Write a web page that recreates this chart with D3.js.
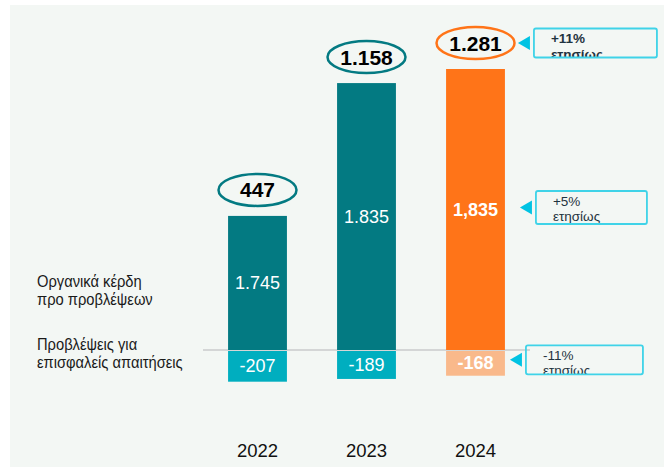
<!DOCTYPE html>
<html>
<head>
<meta charset="utf-8">
<script src="https://cdn.jsdelivr.net/npm/d3@7"></script>
<style>
  body { margin: 0; background: #fff; }
  svg text { font-family: "Liberation Sans", Arial, sans-serif; }
</style>
</head>
<body>
<svg id="canvas" width="664" height="470"></svg>
<script>
// data
let years = ['2022', '2023', '2024']
let totals = [447, 1158, 1281]
let totalLabels = ['447', '1.158', '1.281']
let organic = [1745, 1835, 1835]
let organicLabels = ['1.745', '1.835', '1,835']
let provisions = [-207, -189, -168]
let provisionLabels = ['-207', '-189', '-168']
let growthLabels = ['+11%', '+5%', '-11%']
let growthWord = 'ετησίως'
let rowNames = ['Οργανικά κέρδη|προ προβλέψεων', 'Προβλέψεις για|επισφαλείς απαιτήσεις']

let svg = d3.select('#canvas')

// panel background
svg.append('rect')
   .attr('x', 10).attr('y', 5)
   .attr('width', 654).attr('height', 462)
   .attr('fill', '#f3f7f4')

let x = d3.scaleBand()
          .domain(years)
          .range([203, 530])
          .paddingInner(0.46)
          .paddingOuter(0.23)

// bar tops follow the yearly totals (log scale, as drawn in the source)
let yTop = d3.scaleLog()
             .domain([171, 1281])
             .range([350, 69])

let yNeg = d3.scaleLinear()
             .domain([0, -207])
             .range([350, 381.7])

let base = yTop(171)
let last = years.length - 1

let teal = '#037a82'
let cyan = '#00aebf'
let orange = '#ff7418'
let lightOrange = '#f9b98b'

// baseline
svg.append('line')
   .attr('x1', x.range()[0]).attr('x2', x.range()[1])
   .attr('y1', base).attr('y2', base)
   .attr('stroke', '#d4d6d6').attr('stroke-width', 2)

let rows = years.map((yr, i) => ({
    year: yr, total: totals[i], totalLabel: totalLabels[i],
    org: organic[i], orgLabel: organicLabels[i],
    prov: provisions[i], provLabel: provisionLabels[i], i: i
}))

let g = svg.selectAll('g.year')
           .data(rows)
           .enter()
           .append('g')
           .attr('class', 'year')

// positive bars
g.append('rect')
 .attr('x', d => x(d.year))
 .attr('y', d => yTop(d.total))
 .attr('width', x.bandwidth())
 .attr('height', d => base - yTop(d.total))
 .attr('fill', d => d.i === last ? orange : teal)

g.append('text')
 .text(d => d.orgLabel)
 .attr('x', d => x(d.year) + x.bandwidth() / 2)
 .attr('y', d => (yTop(d.total) + base) / 2)
 .attr('dy', '0.36em')
 .attr('text-anchor', 'middle')
 .attr('fill', '#fff')
 .attr('font-size', 18)
 .attr('font-weight', d => d.i === last ? 'bold' : 'normal')

// negative bars
g.append('rect')
 .attr('x', d => x(d.year))
 .attr('y', base + 1)
 .attr('width', x.bandwidth())
 .attr('height', d => yNeg(d.prov) - base - 1)
 .attr('fill', d => d.i === last ? lightOrange : cyan)

g.append('text')
 .text(d => d.provLabel)
 .attr('x', d => x(d.year) + x.bandwidth() / 2)
 .attr('y', d => (yNeg(d.prov) + base) / 2)
 .attr('dy', '0.36em')
 .attr('text-anchor', 'middle')
 .attr('fill', '#fff')
 .attr('font-size', 18)
 .attr('font-weight', d => d.i === last ? 'bold' : 'normal')

// total ovals
g.append('ellipse')
 .attr('cx', d => x(d.year) + x.bandwidth() / 2)
 .attr('cy', d => yTop(d.total) - 26)
 .attr('rx', 39)
 .attr('ry', 16)
 .attr('fill', 'none')
 .attr('stroke', d => d.i === last ? orange : teal)
 .attr('stroke-width', 2.5)

g.append('text')
 .text(d => d.totalLabel)
 .attr('x', d => x(d.year) + x.bandwidth() / 2)
 .attr('y', d => yTop(d.total) - 26)
 .attr('dy', '0.36em')
 .attr('text-anchor', 'middle')
 .attr('fill', '#000')
 .attr('font-size', 21)
 .attr('font-weight', 'bold')

// year axis
let xAxis = svg.append('g')
               .attr('transform', 'translate(0,440)')
               .call(d3.axisBottom(x).tickSize(0).tickPadding(4))
xAxis.select('.domain').remove()
xAxis.selectAll('text')
     .attr('font-size', 18.5)
     .attr('fill', '#111')
     .style('font-family', '"Liberation Sans", Arial, sans-serif')

// row labels on the left (slightly condensed, like the source)
let rowY = [287, 350]
rowNames.forEach((name, k) => {
    let t = svg.append('text')
               .attr('transform', 'translate(37,' + rowY[k] + ') scale(0.92,1)')
               .attr('font-size', 16)
               .attr('fill', '#1a1a1a')
    name.split('|').forEach((line, j) => {
        t.append('tspan')
         .attr('x', 0)
         .attr('dy', j === 0 ? 0 : 18)
         .text(line)
    })
})

// yearly change callouts next to the 2024 bar
let xr = x(years[last]) + x.bandwidth()
let calloutY = [
    yTop(totals[last]) - 26,
    (yTop(totals[last]) + base) / 2 - 2,
    (yNeg(provisions[last]) + base) / 2 - 3
]
let calloutBox = [
    { tip: 13, w: 123, h: 29, bold: true },
    { tip: 15, w: 111, h: 33, bold: false },
    { tip: 5, w: 117, h: 29, bold: false }
]

growthLabels.forEach((lab, k) => {
    let b = calloutBox[k]
    let cy = calloutY[k]
    let tipX = xr + b.tip
    let bx = tipX + 16
    let by = cy - b.h / 2

    svg.append('path')
       .attr('d', d3.line()([[tipX, cy], [tipX + 12, cy - 7], [tipX + 12, cy + 7]]))
       .attr('fill', '#00c3e3')

    let clipId = 'clip' + k
    svg.append('clipPath')
       .attr('id', clipId)
       .append('rect')
       .attr('x', bx).attr('y', by)
       .attr('width', b.w).attr('height', b.h)

    let tg = svg.append('g').attr('clip-path', 'url(#' + clipId + ')')
    tg.append('text')
      .attr('x', bx + 17)
      .attr('y', by + 14.5)
      .attr('font-size', 13.5)
      .attr('font-weight', b.bold ? 'bold' : 'normal')
      .attr('fill', '#1f3340')
      .text(lab)
    tg.append('text')
      .attr('x', bx + 17)
      .attr('y', by + 30)
      .attr('font-size', 13.5)
      .attr('font-weight', b.bold ? 'bold' : 'normal')
      .attr('fill', '#1f3340')
      .text(growthWord)

    svg.append('rect')
       .attr('x', bx).attr('y', by)
       .attr('width', b.w).attr('height', b.h)
       .attr('rx', 2)
       .attr('fill', 'none')
       .attr('stroke', '#3fd3e8')
       .attr('stroke-width', 1.8)
})
</script>
</body>
</html>
